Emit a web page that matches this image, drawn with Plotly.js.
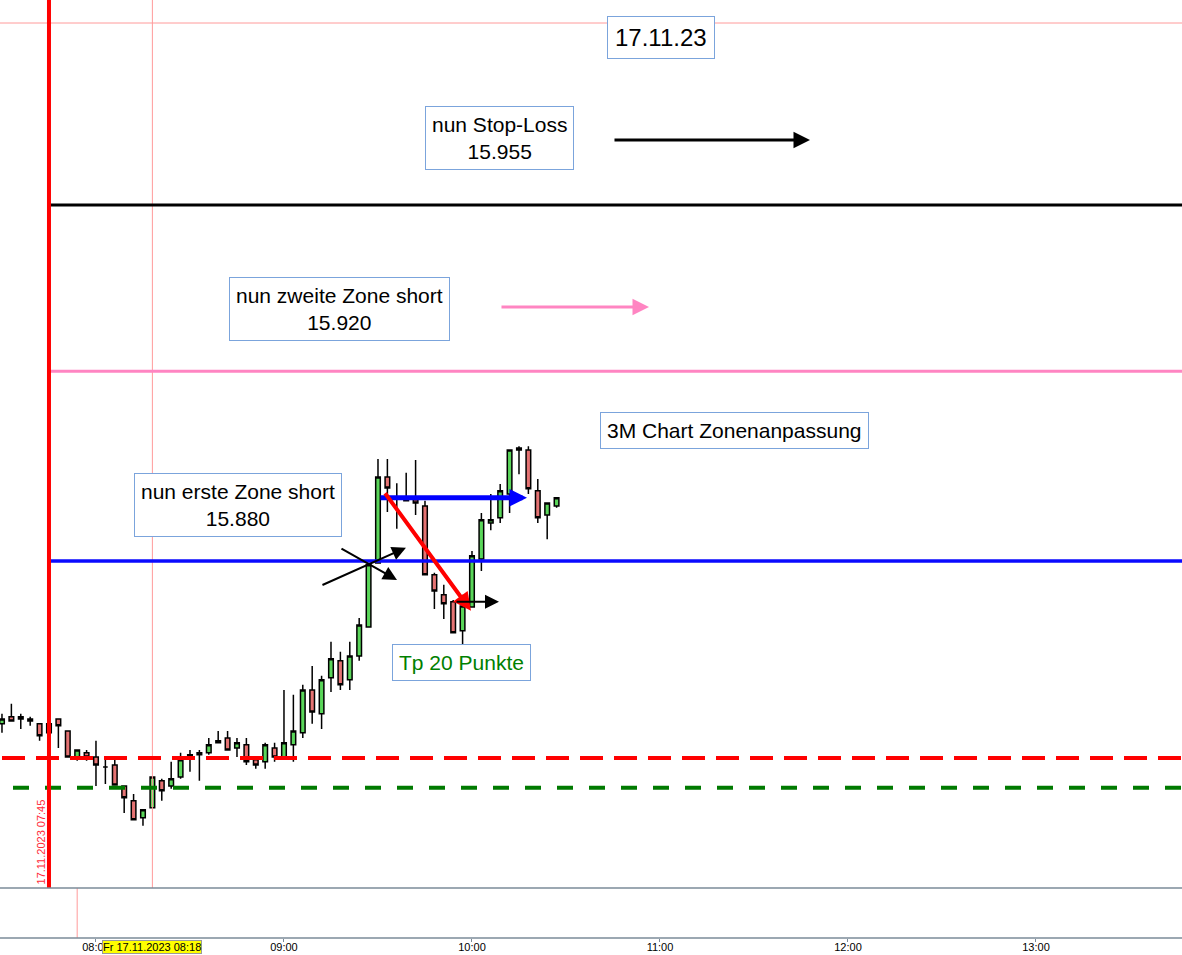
<!DOCTYPE html>
<html><head><meta charset="utf-8">
<script src="https://cdn.plot.ly/plotly-3.0.1.min.js"></script>
<style>html,body{margin:0;padding:0;background:#fff;}#chart{width:1182px;height:955px;}</style>
</head><body><div id="chart"></div>
<script>
const DAY = '2023-11-17 ';
const times = ['07:30','07:33','07:36','07:39','07:42','07:45','07:48','07:51','07:54','07:57',
  '08:00','08:03','08:06','08:09','08:12','08:15','08:18','08:21','08:24','08:27',
  '08:30','08:33','08:36','08:39','08:42','08:45','08:48','08:51','08:54','08:57',
  '09:00','09:03','09:06','09:09','09:12','09:15','09:18','09:21','09:24','09:27',
  '09:30','09:33','09:36','09:39','09:42','09:45','09:48','09:51','09:54','09:57',
  '10:00','10:03','10:06','10:09','10:12','10:15','10:18','10:21','10:24','10:27'];
const open = [15845.7,15847.2,15846.7,15846.7,15845.7,15843.8,15846.7,15844.2,15838.7,15839.6,
  15838.7,15836.6,15837.0,15832.6,15829.5,15825.9,15828.0,15833.7,15832.6,15834.5,
  15839.2,15839.6,15839.6,15841.7,15842.7,15840.6,15841.3,15838.1,15837.7,15840.6,
  15838.7,15841.3,15843.8,15852.8,15847.8,15855.4,15859.0,15855.0,15860.0,15866.1,
  15879.6,15897.7,15893.5,15892.7,15892.9,15891.6,15877.1,15872.9,15871.4,15865.3,
  15870.3,15880.4,15888.0,15889.1,15894.1,15903.4,15903.4,15894.8,15889.7,15891.6];
const high = [15847.8,15849.9,15847.8,15847.2,15845.7,15845.7,15846.7,15844.2,15840.2,15840.2,
  15842.1,15838.1,15838.1,15832.6,15830.9,15827.6,15834.5,15834.1,15837.7,15839.6,
  15840.2,15840.2,15842.7,15844.2,15844.2,15842.7,15842.7,15838.1,15841.7,15841.7,
  15852.8,15851.8,15853.9,15857.9,15855.8,15863.0,15860.9,15863.0,15868.0,15879.2,
  15901.5,15901.5,15896.4,15898.6,15901.3,15892.7,15877.5,15875.0,15871.8,15872.9,
  15882.1,15890.1,15894.1,15896.2,15903.4,15904.2,15904.2,15897.3,15892.2,15893.3];
const low = [15843.8,15846.3,15844.6,15845.3,15842.1,15843.8,15840.6,15838.7,15837.9,15837.9,
  15832.6,15833.0,15832.8,15826.9,15825.5,15824.2,15828.0,15829.5,15832.0,15834.1,
  15835.6,15833.7,15839.2,15841.7,15840.2,15838.7,15837.0,15836.2,15836.2,15837.7,
  15838.7,15837.7,15842.7,15845.7,15844.6,15852.4,15852.8,15852.8,15859.0,15866.1,
  15879.6,15890.3,15886.8,15892.7,15889.7,15877.1,15869.9,15867.8,15864.9,15860.6,
  15870.3,15877.9,15886.5,15888.0,15890.1,15898.3,15894.1,15888.0,15884.6,15891.2];
const close = [15846.7,15846.3,15847.2,15846.3,15843.2,15845.7,15845.3,15838.7,15840.2,15838.7,
  15837.0,15836.6,15832.8,15830.1,15825.5,15827.6,15834.5,15831.6,15834.1,15838.1,
  15838.7,15839.2,15841.3,15842.1,15840.2,15841.7,15837.7,15837.0,15841.3,15838.7,
  15841.7,15844.2,15852.8,15848.2,15855.0,15859.4,15853.9,15860.0,15866.5,15879.2,
  15897.7,15895.4,15893.5,15893.1,15892.2,15877.1,15873.7,15871.0,15864.9,15870.5,
  15881.1,15888.7,15888.7,15894.8,15903.4,15903.8,15895.2,15889.1,15892.2,15893.3];

// horizontal levels
const levelNames = ['Stop-Loss', 'zweite Zone short', 'erste Zone short', 'Linie rot', 'Linie grün'];
const levelValues = [15955, 15920, 15880, 15838.5, 15832.2];
const markerTime = '07:45';
const cursorTime = '08:18';

const T = s => DAY + s;
const font = 'Liberation Sans, Arial, sans-serif';

const trace = {
  type: 'candlestick',
  x: times.map(T), open: open, high: high, low: low, close: close,
  increasing: {line: {color: '#000', width: 1.5}, fillcolor: '#5ad65a'},
  decreasing: {line: {color: '#000', width: 1.5}, fillcolor: '#e57373'},
  whiskerwidth: 0, hoverinfo: 'skip', showlegend: false
};

const mainBottom = 50 / 938;
const shapes = [
  {type:'line', xref:'paper', yref:'paper', x0:0, x1:1, y0:1-23/938, y1:1-23/938, line:{color:'#ff9a9a', width:1}, layer:'above'},
  {type:'line', xref:'x', yref:'paper', x0:T(cursorTime), x1:T(cursorTime), y0:mainBottom, y1:1, line:{color:'#ff9a9a', width:1}, layer:'above'},
  {type:'line', xref:'x', yref:'paper', x0:T('07:54'), x1:T('07:54'), y0:0, y1:mainBottom, line:{color:'#ff9a9a', width:1}, layer:'above'},
  {type:'line', xref:'x', yref:'y', x0:T(markerTime), x1:T('23:00'), y0:levelValues[0], y1:levelValues[0], line:{color:'#000', width:3}, layer:'above'},
  {type:'line', xref:'x', yref:'y', x0:T(markerTime), x1:T('23:00'), y0:levelValues[1], y1:levelValues[1], line:{color:'#ff85c2', width:3}, layer:'above'},
  {type:'line', xref:'x', yref:'y', x0:T(markerTime), x1:T('23:00'), y0:levelValues[2], y1:levelValues[2], line:{color:'#0a0aff', width:3.5}, layer:'above'},
  {type:'line', xref:'paper', yref:'y', x0:2/1182, x1:1, y0:levelValues[3], y1:levelValues[3], line:{color:'#ff0000', width:4, dash:'23px,11px'}, layer:'above'},
  {type:'line', xref:'paper', yref:'y', x0:13/1182, x1:1, y0:levelValues[4], y1:levelValues[4], line:{color:'#007a00', width:4, dash:'16px,16px'}, layer:'above'},
  {type:'line', xref:'x', yref:'paper', x0:T(markerTime), x1:T(markerTime), y0:mainBottom, y1:1, line:{color:'#ff0000', width:4}, layer:'above'},
  {type:'line', xref:'paper', yref:'paper', x0:0, x1:1, y0:mainBottom, y1:mainBottom, line:{color:'#7b8b99', width:1.5}, layer:'above'},
  {type:'line', xref:'paper', yref:'paper', x0:0, x1:1, y0:0, y1:0, line:{color:'#7b8b99', width:1.5}, layer:'above'}
];

function box(text, t, v, size, pad, color) {
  return {xref:'x', yref:'y', x:T(t), y:v, text:text, showarrow:false,
    font:{family:font, size:size, color:color || '#000'},
    bgcolor:'#fff', bordercolor:'#7ba4dc', borderwidth:1, borderpad:pad, align:'center'};
}
function arrow(t0, v0, t1, v1, color, w, size) {
  return {xref:'x', yref:'y', axref:'x', ayref:'y', x:T(t1), y:v1, ax:T(t0), ay:v0, text:'',
    showarrow:true, arrowhead:2, arrowsize:size, arrowwidth:w, arrowcolor:color, standoff:0};
}

const annotations = [
  box('17.11.23', '11:00:20', 15990.2, 24, 7),
  box('nun Stop-Loss<br>' + '15.955', '10:08:56', 15969.1, 21, 6),
  box('nun zweite Zone short<br>' + '15.920', '09:17:52', 15933.1, 21, 6),
  box('3M Chart Zonenanpassung', '11:23:56', 15907.6, 21, 6),
  box('nun erste Zone short<br>' + '15.880', '08:45:10', 15891.8, 21, 6),
  box('Tp 20 Punkte', '09:56:30', 15858.6, 21, 6, '#008000'),
  arrow('10:45:00', 15968.7, '11:47:53', 15968.7, '#000', 3, 1.1),
  arrow('10:08:56', 15933.5, '10:56:30', 15933.5, '#ff85c2', 3, 1.1),
  arrow('09:30:19', 15893.3, '10:17:33', 15893.3, '#0000ff', 5, 0.7),
  arrow('09:31:55', 15894.6, '09:59:41', 15869.5, '#ff0000', 4, 0.9),
  arrow('09:11:48', 15874.8, '09:38:56', 15882.8, '#000', 2, 1.4),
  arrow('09:17:52', 15882.8, '09:36:04', 15876.0, '#000', 2, 1.4),
  arrow('09:54:35', 15871.4, '10:08:37', 15871.4, '#000', 2, 1.4),
  {xref:'x', yref:'paper', x:T(markerTime), y:1-886/938, xshift:-8, xanchor:'center', yanchor:'bottom',
    text:'17.11.2023 07:45', textangle:-90,
    showarrow:false, font:{family:font, size:11, color:'#ff2a3a'}},
  {xref:'x', yref:'paper', x:T(cursorTime), y:-0.002, yanchor:'top', text:'Fr 17.11.2023 08:18', showarrow:false,
    font:{family:font, size:11, color:'#000'}, bgcolor:'#ffff00', bordercolor:'#999', borderwidth:1, borderpad:0}
];

const layout = {
  width:1182, height:955, margin:{l:0, r:0, t:0, b:17},
  paper_bgcolor:'#fff', plot_bgcolor:'#fff', showlegend:false, hovermode:false,
  xaxis:{type:'date', range:[T('07:29:22'), T('13:46:36')], tickformat:'%H:%M', dtick:3600000, tick0:T('08:00'),
    ticks:'outside', ticklen:3, tickcolor:'#7b8b99', showgrid:false, zeroline:false, showline:false,
    ticklabelstandoff:-4,
    tickfont:{family:font, size:11, color:'#000'}, rangeslider:{visible:false}, anchor:'free', position:0, fixedrange:true},
  yaxis:{domain:[mainBottom, 1], range:[15811.1, 15998.2], visible:false, showgrid:false, fixedrange:true},
  shapes:shapes, annotations:annotations
};

Plotly.newPlot('chart', [trace], layout, {displayModeBar:false, staticPlot:true});
</script></body></html>
